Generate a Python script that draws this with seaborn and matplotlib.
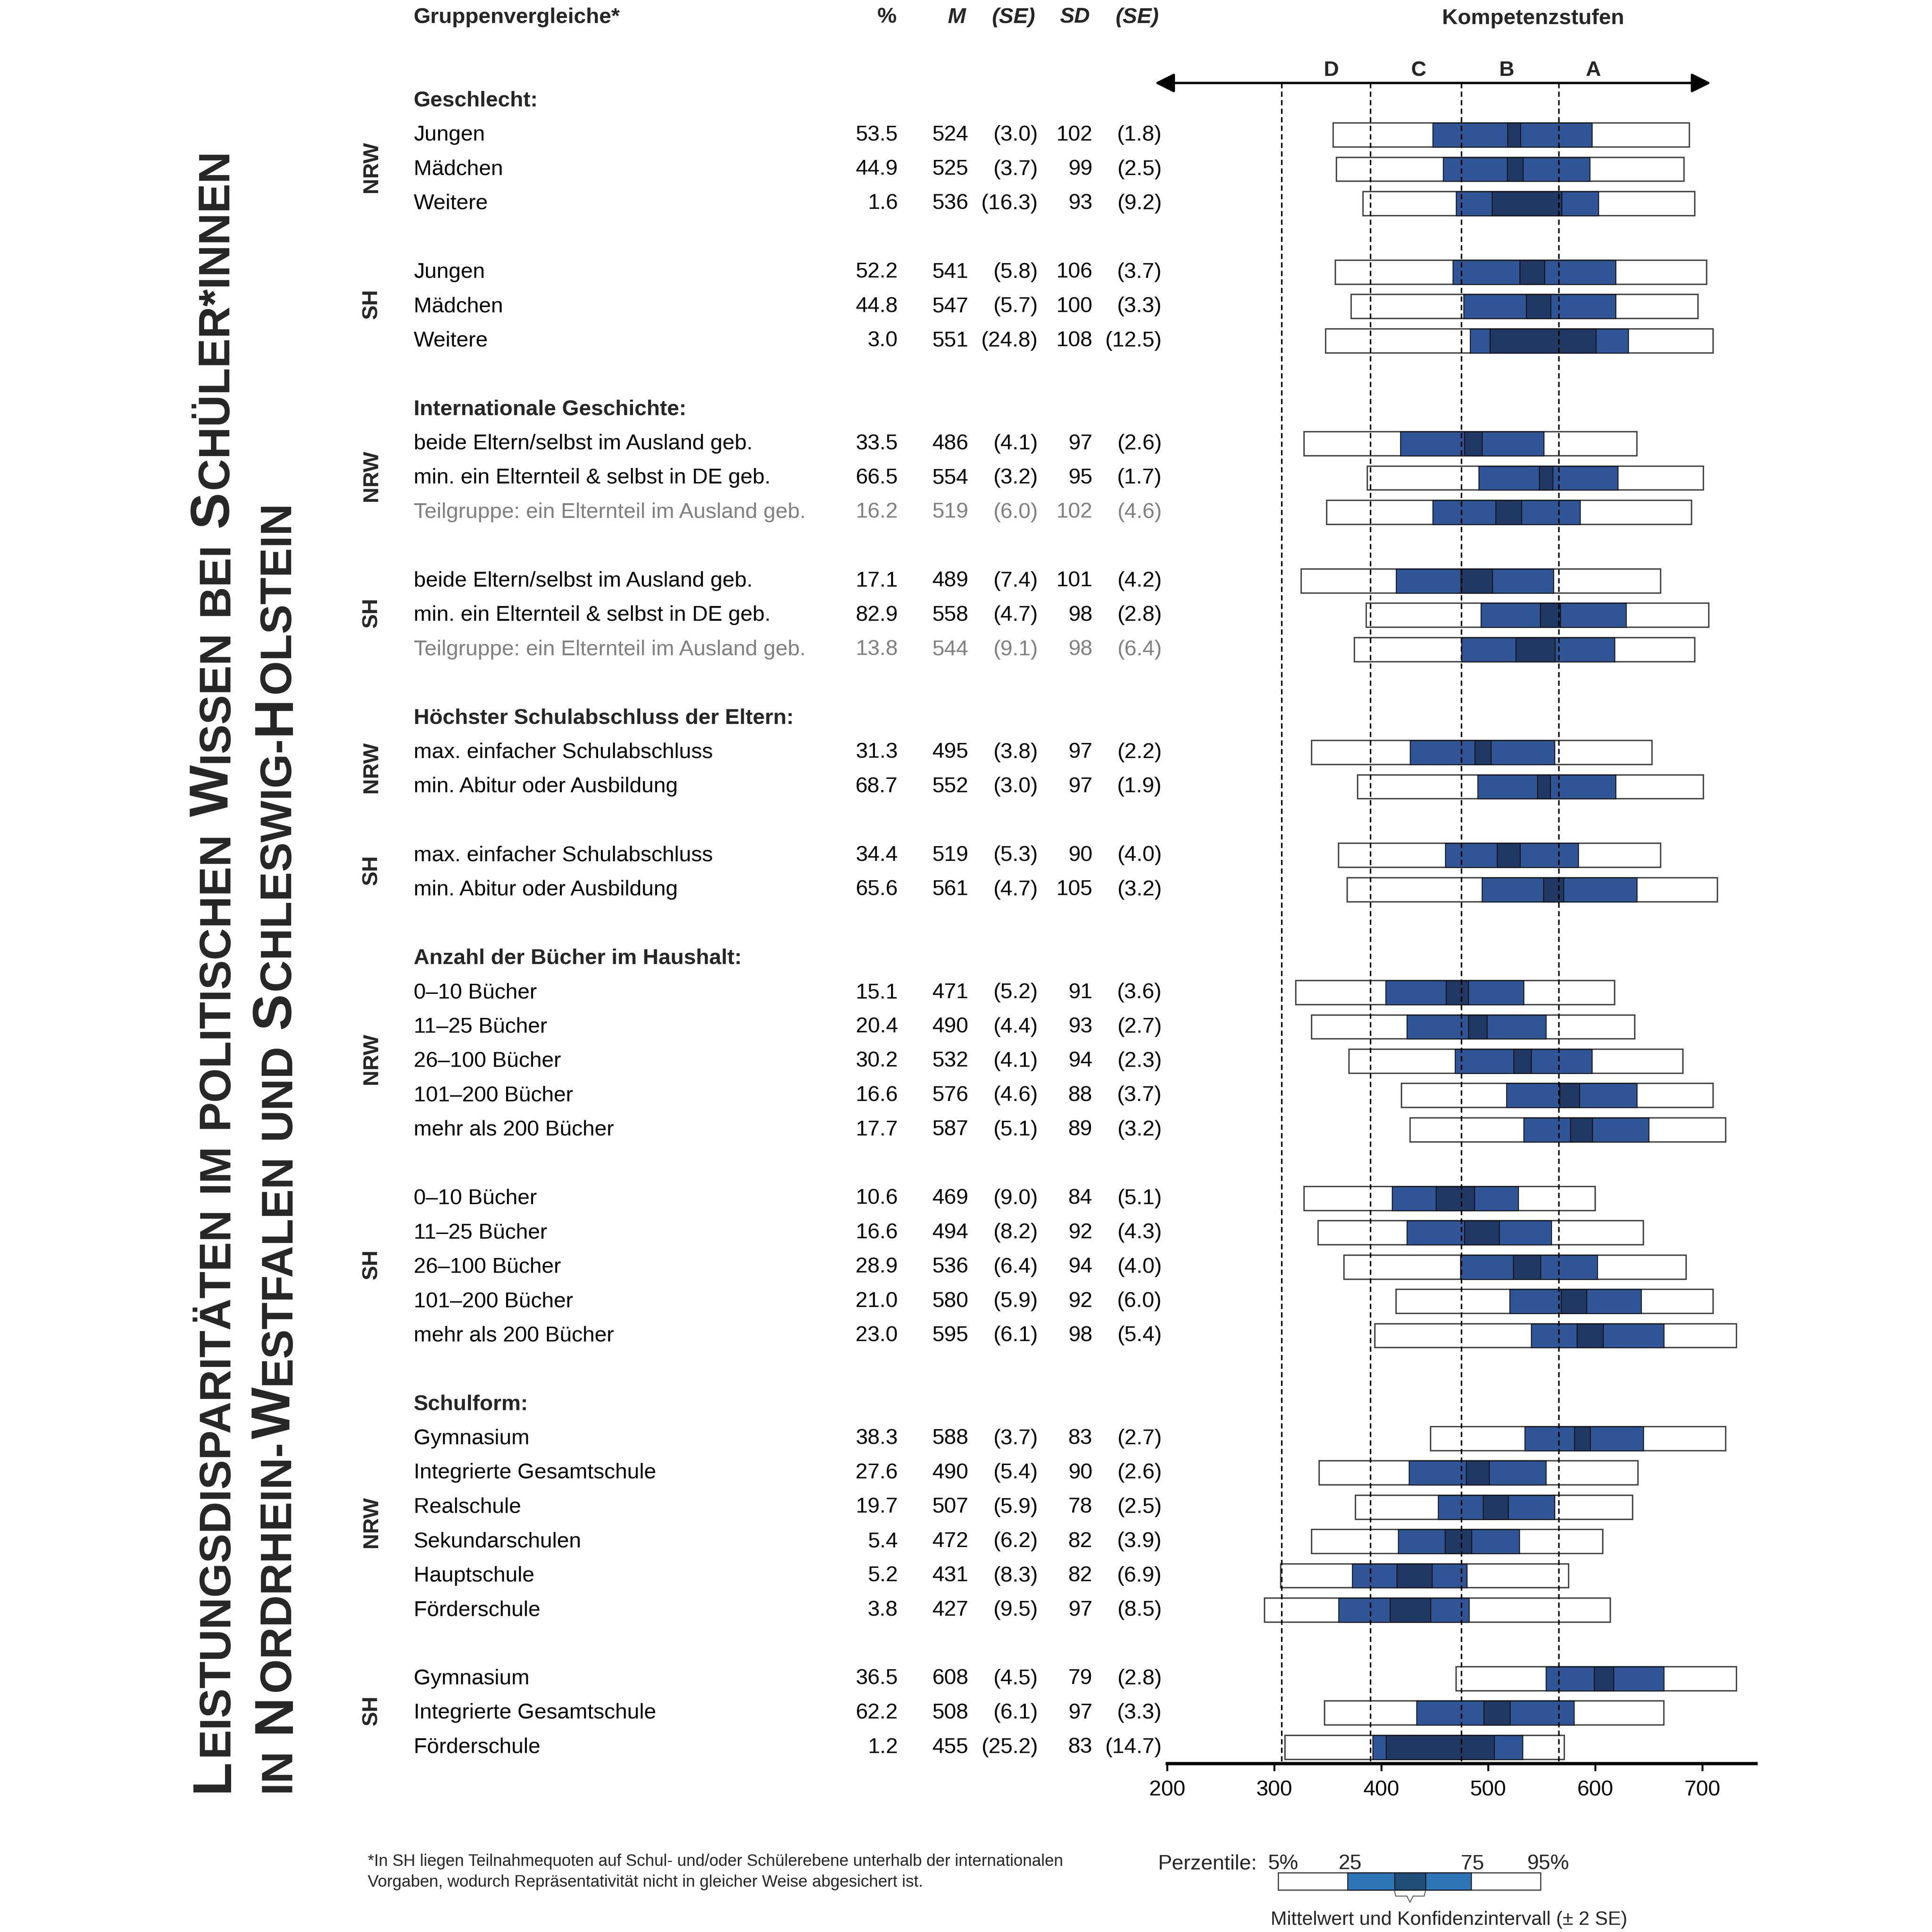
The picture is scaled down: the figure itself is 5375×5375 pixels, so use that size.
import matplotlib
matplotlib.use("Agg")
import matplotlib.pyplot as plt
import seaborn as sns
import pandas as pd

# ------------------------------------------------------------------
# Daten
# ------------------------------------------------------------------
abschnitte = ["Geschlecht:", "Internationale Geschichte:",
              "Höchster Schulabschluss der Eltern:",
              "Anzahl der Bücher im Haushalt:", "Schulform:"]
zeilen_nrw = [3, 3, 2, 5, 6]   # Anzahl Zeilen je Abschnitt NRW
zeilen_sh = [3, 3, 2, 5, 3]    # Anzahl Zeilen je Abschnitt SH

gruppen = [
    "Jungen", "Mädchen", "Weitere",
    "Jungen", "Mädchen", "Weitere",
    "beide Eltern/selbst im Ausland geb.", "min. ein Elternteil & selbst in DE geb.",
    "Teilgruppe: ein Elternteil im Ausland geb.",
    "beide Eltern/selbst im Ausland geb.", "min. ein Elternteil & selbst in DE geb.",
    "Teilgruppe: ein Elternteil im Ausland geb.",
    "max. einfacher Schulabschluss", "min. Abitur oder Ausbildung",
    "max. einfacher Schulabschluss", "min. Abitur oder Ausbildung",
    "0–10 Bücher", "11–25 Bücher", "26–100 Bücher", "101–200 Bücher", "mehr als 200 Bücher",
    "0–10 Bücher", "11–25 Bücher", "26–100 Bücher", "101–200 Bücher", "mehr als 200 Bücher",
    "Gymnasium", "Integrierte Gesamtschule", "Realschule", "Sekundarschulen",
    "Hauptschule", "Förderschule",
    "Gymnasium", "Integrierte Gesamtschule", "Förderschule",
]
teilgruppe = [g.startswith("Teilgruppe") for g in gruppen]

prozent = [53.5, 44.9, 1.6, 52.2, 44.8, 3.0,
           33.5, 66.5, 16.2, 17.1, 82.9, 13.8,
           31.3, 68.7, 34.4, 65.6,
           15.1, 20.4, 30.2, 16.6, 17.7, 10.6, 16.6, 28.9, 21.0, 23.0,
           38.3, 27.6, 19.7, 5.4, 5.2, 3.8, 36.5, 62.2, 1.2]
mittel = [524, 525, 536, 541, 547, 551,
          486, 554, 519, 489, 558, 544,
          495, 552, 519, 561,
          471, 490, 532, 576, 587, 469, 494, 536, 580, 595,
          588, 490, 507, 472, 431, 427, 608, 508, 455]
se_mittel = [3.0, 3.7, 16.3, 5.8, 5.7, 24.8,
             4.1, 3.2, 6.0, 7.4, 4.7, 9.1,
             3.8, 3.0, 5.3, 4.7,
             5.2, 4.4, 4.1, 4.6, 5.1, 9.0, 8.2, 6.4, 5.9, 6.1,
             3.7, 5.4, 5.9, 6.2, 8.3, 9.5, 4.5, 6.1, 25.2]
sd = [102, 99, 93, 106, 100, 108,
      97, 95, 102, 101, 98, 98,
      97, 97, 90, 105,
      91, 93, 94, 88, 89, 84, 92, 94, 92, 98,
      83, 90, 78, 82, 82, 97, 79, 97, 83]
se_sd = [1.8, 2.5, 9.2, 3.7, 3.3, 12.5,
         2.6, 1.7, 4.6, 4.2, 2.8, 6.4,
         2.2, 1.9, 4.0, 3.2,
         3.6, 2.7, 2.3, 3.7, 3.2, 5.1, 4.3, 4.0, 6.0, 5.4,
         2.7, 2.6, 2.5, 3.9, 6.9, 8.5, 2.8, 3.3, 14.7]

# Perzentile (geschaetzt aus den Balken)
p05 = [355, 358, 383, 357, 372, 348,
       328, 387, 349, 325, 386, 375,
       335, 378, 360, 368,
       320, 335, 370, 419, 427, 328, 341, 365, 414, 394,
       446, 342, 376, 335, 306, 291, 470, 347, 310]
p25 = [448, 458, 470, 467, 477, 483,
       418, 491, 448, 414, 493, 475,
       427, 490, 460, 494,
       404, 424, 469, 517, 533, 410, 424, 474, 520, 540,
       534, 426, 453, 416, 373, 360, 554, 433, 392]
p75 = [597, 595, 603, 619, 619, 631,
       552, 621, 586, 561, 629, 618,
       562, 619, 584, 639,
       533, 554, 597, 639, 650, 528, 559, 602, 643, 664,
       645, 554, 562, 529, 480, 482, 664, 580, 532]
p95 = [688, 683, 693, 704, 696, 710,
       639, 701, 690, 661, 706, 693,
       653, 701, 661, 714,
       618, 637, 682, 710, 722, 600, 645, 685, 710, 732,
       722, 640, 635, 607, 575, 614, 732, 664, 571]

stufen_grenzen = [307, 390, 475, 566]
stufen_namen = ["D", "C", "B", "A"]
stufen_x = [353, 435, 517, 598]
achsen_ticks = [200, 300, 400, 500, 600, 700]

# ------------------------------------------------------------------
# Zeilenpositionen berechnen (Raster in Zeileneinheiten)
# ------------------------------------------------------------------
kopf_k = []
zeilen_k = []
bloecke = []
k = 0
for n_nrw, n_sh in zip(zeilen_nrw, zeilen_sh):
    kopf_k.append(k)
    nrw = list(range(k + 1, k + 1 + n_nrw))
    sh = list(range(nrw[-1] + 2, nrw[-1] + 2 + n_sh))
    zeilen_k += nrw + sh
    bloecke += [("NRW", nrw), ("SH", sh)]
    k = sh[-1] + 2

df = pd.DataFrame({"gruppe": gruppen, "k": zeilen_k, "prozent": prozent, "M": mittel,
                   "SE": se_mittel, "SD": sd, "SE_SD": se_sd,
                   "p05": p05, "p25": p25, "p75": p75, "p95": p95, "teil": teilgruppe})

# ------------------------------------------------------------------
# Figur
# ------------------------------------------------------------------
sns.set_theme(style="white")
plt.rcParams["font.family"] = ["Liberation Sans", "DejaVu Sans"]

B = 1560.0            # Referenzraster (Pixel der Vorlage)
Y0, STEP = 81.3, 27.70
Y_ACHSE = 1424.0
X200, PX_PRO_PUNKT = 942.5, 0.864


def ypx(kk):
    return Y0 + kk * STEP


fig = plt.figure(figsize=(5375 / 300, 5375 / 300), dpi=300, facecolor="white")

# Balkenbereich
x_rechts = X200 + 550 * PX_PRO_PUNKT
ax = fig.add_axes([X200 / B, (B - Y_ACHSE) / B, (x_rechts - X200) / B, Y_ACHSE / B])
ax.set_xlim(200, 750)
ax.set_ylim((Y_ACHSE - Y0) / STEP, -Y0 / STEP)
ax.set_facecolor("none")

blau = "#2F5597"
dunkel = "#203864"
h = 0.70
ax.barh(df["k"], df["p95"] - df["p05"], left=df["p05"], height=h,
        color="white", edgecolor="#404040", linewidth=0.9, zorder=3)
ax.barh(df["k"], df["p75"] - df["p25"], left=df["p25"], height=h,
        color=blau, edgecolor="#111111", linewidth=0.6, zorder=4)
ax.barh(df["k"], 4 * df["SE"], left=df["M"] - 2 * df["SE"], height=h,
        color=dunkel, edgecolor="#111111", linewidth=0.6, zorder=5)

# Kompetenzstufen
k_pfeil = (67 - Y0) / STEP
ax.vlines(stufen_grenzen, k_pfeil, (Y_ACHSE - Y0) / STEP, colors="black",
          linestyles=(0, (3.5, 2.2)), linewidth=1.0, zorder=6)
ax.annotate("", xy=(708, k_pfeil), xytext=(188.5, k_pfeil),
            arrowprops=dict(arrowstyle="<|-|>, head_length=0.9, head_width=0.45",
                            color="black", lw=1.6, mutation_scale=12,
                            shrinkA=0, shrinkB=0),
            annotation_clip=False)
for name, xs in zip(stufen_namen, stufen_x):
    ax.text(xs, (57 - Y0) / STEP, name, ha="center", va="center",
            fontsize=14, fontweight="bold")

for s in ["left", "top", "right"]:
    ax.spines[s].set_visible(False)
ax.spines["bottom"].set_linewidth(2.2)
ax.spines["bottom"].set_color("black")
ax.set_xticks(achsen_ticks)
ax.set_yticks([])
ax.tick_params(axis="x", bottom=True, direction="out", length=5, width=1.3,
               pad=6, labelsize=14.5, colors="black")
ax.grid(False)

# Ueberlagerte Achse fuer Tabelle und Texte (Koordinaten im Referenzraster)
lay = fig.add_axes([0, 0, 1, 1])
lay.set_xlim(0, B)
lay.set_ylim(B, 0)
lay.axis("off")

fs = 14.5
grau = "#808080"
lay.text(334, 14, "Gruppenvergleiche*", fontsize=fs, fontweight="bold", va="center")
lay.text(724, 14, "%", fontsize=fs, fontweight="bold", ha="right", va="center")
for xr, t in zip([780, 836, 880, 936], ["M", "(SE)", "SD", "(SE)"]):
    lay.text(xr, 14, t, fontsize=fs, fontweight="bold", style="italic", ha="right", va="center")
lay.text(1238, 15, "Kompetenzstufen", fontsize=fs, fontweight="bold", ha="center", va="center")

for titel, kk in zip(abschnitte, kopf_k):
    lay.text(334, ypx(kk), titel, fontsize=fs, fontweight="bold", va="center")

for land, ks in bloecke:
    lay.text(300, ypx((ks[0] + ks[-1]) / 2) - 2, land, rotation=90, fontsize=fs,
             fontweight="bold", ha="center", va="center")

for _, r in df.iterrows():
    y = ypx(r["k"])
    c = grau if r["teil"] else "black"
    lay.text(334, y, r["gruppe"], fontsize=fs, va="center", color=c)
    lay.text(725, y, f"{r['prozent']:.1f}", fontsize=fs, va="center", ha="right", color=c)
    lay.text(782, y, f"{r['M']:d}", fontsize=fs, va="center", ha="right", color=c)
    lay.text(838, y, f"({r['SE']:.1f})", fontsize=fs, va="center", ha="right", color=c)
    lay.text(882, y, f"{r['SD']:d}", fontsize=fs, va="center", ha="right", color=c)
    lay.text(938, y, f"({r['SE_SD']:.1f})", fontsize=fs, va="center", ha="right", color=c)

# Titel in Kapitaelchen (senkrecht)
renderer = fig.canvas.get_renderer()
px_pro_einheit = fig.bbox.height / B

titel1 = [("L", 1), ("EISTUNGSDISPARITÄTEN", 0), ("IM", 0), ("POLITISCHEN", 0),
          ("W", 1), ("ISSEN", 0), ("BEI", 0), ("S", 1), ("CHÜLER*INNEN", 0)]
titel2 = [("IN", 0), ("N", 1), ("ORDRHEIN-", 0), ("W", 1), ("ESTFALEN", 0), ("UND", 0),
          ("S", 1), ("CHLESWIG-", 0), ("H", 1), ("OLSTEIN", 0)]
# nach diesen Teilen folgt ein Leerzeichen
luecke1 = [0, 1, 1, 1, 0, 1, 1, 0, 0]
luecke2 = [1, 0, 0, 0, 1, 1, 0, 0, 0, 0]


def kapitaelchen(x, y_start, teile, luecken, gross, klein):
    artists = []
    y = y_start
    for (txt, g), l in zip(teile, luecken):
        t = lay.text(x, y, txt, rotation=90, rotation_mode="anchor", ha="left",
                     va="baseline", fontsize=gross if g else klein, fontweight="bold")
        ext = t.get_window_extent(renderer)
        y -= ext.height / px_pro_einheit + 0.06 * klein / 0.8269 * 0.8
        if l:
            y -= 0.278 * klein / 0.8269
        artists.append(t)
    return artists, y_start - y


gross, klein = 44.0, 35.5
arts, laenge = kapitaelchen(184, 1447, titel1, luecke1, gross, klein)
faktor = (1447 - 118) / laenge
for a in arts:
    a.remove()
kapitaelchen(184, 1447, titel1, luecke1, gross * faktor, klein * faktor)
kapitaelchen(234, 1447, titel2, luecke2, gross * faktor, klein * faktor)

# Legende
leg_y0, leg_y1 = 1512, 1526
lay.add_patch(plt.Rectangle((1032, leg_y0), 1244 - 1032, leg_y1 - leg_y0, facecolor="white",
                            edgecolor="#404040", linewidth=0.8))
lay.add_patch(plt.Rectangle((1088, leg_y0), 1188 - 1088, leg_y1 - leg_y0, facecolor="#2E75B6",
                            edgecolor="#111111", linewidth=0.6))
lay.add_patch(plt.Rectangle((1126, leg_y0), 1151 - 1126, leg_y1 - leg_y0, facecolor="#1F4E79",
                            edgecolor="#111111", linewidth=0.6))
lay.plot([1126, 1127, 1136, 1138.5, 1141, 1150, 1151],
         [1527, 1531, 1531, 1536, 1531, 1531, 1527], color="#555555", lw=0.6)
lay.text(935, 1505, "Perzentile:", fontsize=14, va="center")
for xs, t in zip([1036, 1090, 1189, 1250], ["5%", "25", "75", "95%"]):
    lay.text(xs, 1505, t, fontsize=14, va="center", ha="center")
lay.text(1170, 1550, "Mittelwert und Konfidenzintervall (± 2 SE)", fontsize=13,
         ha="center", va="center")

# Fussnote
lay.text(297, 1503, "*In SH liegen Teilnahmequoten auf Schul- und/oder Schülerebene unterhalb der internationalen",
         fontsize=11, va="center")
lay.text(297, 1520, "Vorgaben, wodurch Repräsentativität nicht in gleicher Weise abgesichert ist.",
         fontsize=11, va="center")

fig.savefig("out.png", dpi=300, facecolor="white")
